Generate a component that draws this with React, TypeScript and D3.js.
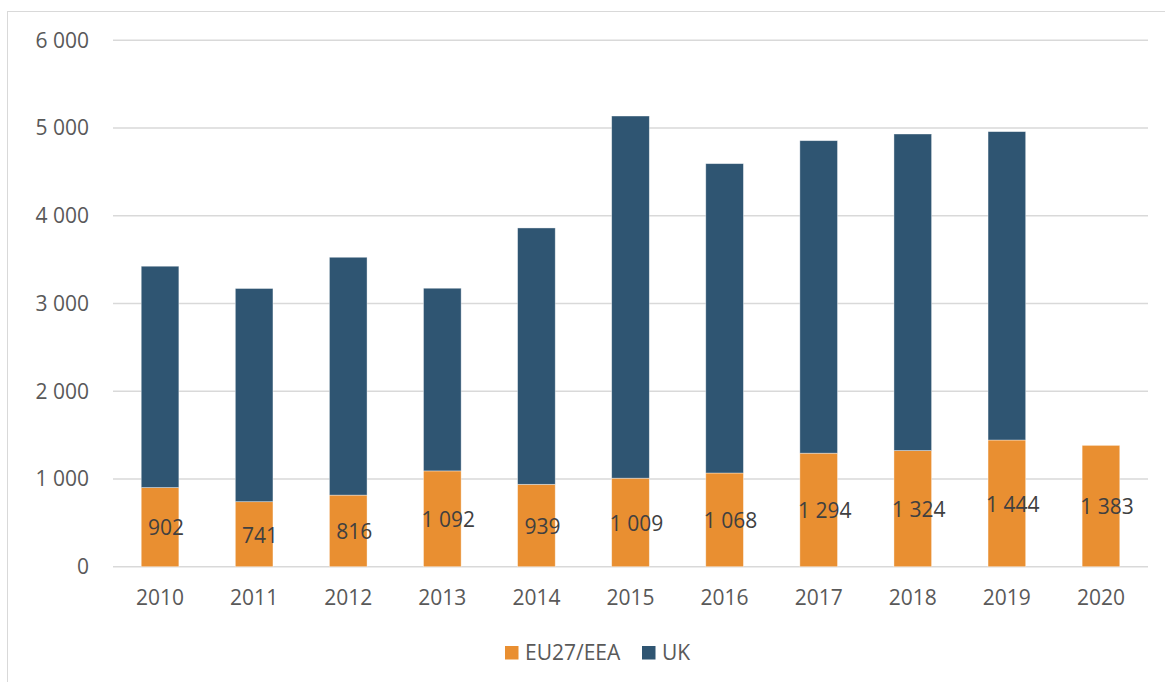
import React from "react";
import * as d3 from "d3";

const years = ["2010", "2011", "2012", "2013", "2014", "2015", "2016", "2017", "2018", "2019", "2020"];
const euValues = [902, 741, 816, 1092, 939, 1009, 1068, 1294, 1324, 1444, 1383];
const ukValues = [2523, 2430, 2711, 2082, 2922, 4128, 3526, 3562, 3608, 3515, 0];
const yTicks = [0, 1000, 2000, 3000, 4000, 5000, 6000];
const seriesNames = ["EU27/EEA", "UK"];
const seriesColors = ["#E98F31", "#2F5572"];

const W = 1165;
const H = 682;
const FONT = "'Open Sans', 'Liberation Sans', sans-serif";

const fmt = (v: number) => {
  const s = String(Math.round(v));
  return s.replace(/\B(?=(\d{3})+(?!\d))/g, " ");
};

export default function App() {
  const x = d3.scaleBand<string>().domain(years).range([113, 1148]).paddingInner(0.6).paddingOuter(0.3);
  const y = d3.scaleLinear().domain([0, 6000]).range([566.7, 40.3]);

  const rows = years.map((yr, i) => ({ year: yr, eu: euValues[i], uk: ukValues[i] }));
  const stack = d3.stack<any>().keys(["eu", "uk"]);
  const layers = stack(rows);

  return (
    <svg width={W} height={H} style={{ position: "absolute", left: 0, top: 0, background: "#fff" }}>
      <rect x={7.5} y={11.5} width={W + 20} height={H + 20} fill="#fff" stroke="#D9D9D9" strokeWidth={1} />
      {yTicks.map((t) => (
        <g key={t}>
          <line x1={113} x2={1148} y1={y(t)} y2={y(t)} stroke="#D9D9D9" strokeWidth={1.5} />
          <text x={89} y={y(t)} dy="0.35em" textAnchor="end" fontFamily={FONT} fontSize={21} fill="#595959">
            {fmt(t)}
          </text>
        </g>
      ))}
      {layers.map((layer, li) => (
        <g key={li}>
          {layer.map((d, i) =>
            d[1] - d[0] > 0 ? (
              <rect
                key={i}
                x={x(years[i])}
                y={y(d[1])}
                width={x.bandwidth()}
                height={y(d[0]) - y(d[1])}
                fill={seriesColors[li]}
                stroke="#ffffff"
                strokeOpacity={0.5}
                strokeWidth={0.75}
              />
            ) : null
          )}
        </g>
      ))}
      {years.map((yr, i) => (
        <text
          key={"lab" + yr}
          x={(x(yr) as number) + x.bandwidth() / 2 + 6}
          y={y(euValues[i] / 2) + 1}
          dy="0.35em"
          textAnchor="middle"
          fontFamily={FONT}
          fontSize={21}
          fill="#404040"
        >
          {fmt(euValues[i])}
        </text>
      ))}
      {years.map((yr) => (
        <text
          key={"x" + yr}
          x={(x(yr) as number) + x.bandwidth() / 2}
          y={598}
          dy="0.35em"
          textAnchor="middle"
          fontFamily={FONT}
          fontSize={21}
          fill="#595959"
        >
          {yr}
        </text>
      ))}
      <g>
        <rect x={505} y={646} width={13.5} height={13.5} fill={seriesColors[0]} />
        <text x={525} y={653} dy="0.35em" fontFamily={FONT} fontSize={21} fill="#595959">
          {seriesNames[0]}
        </text>
        <rect x={642} y={646} width={13.5} height={13.5} fill={seriesColors[1]} />
        <text x={662} y={653} dy="0.35em" fontFamily={FONT} fontSize={21} fill="#595959">
          {seriesNames[1]}
        </text>
      </g>
    </svg>
  );
}
